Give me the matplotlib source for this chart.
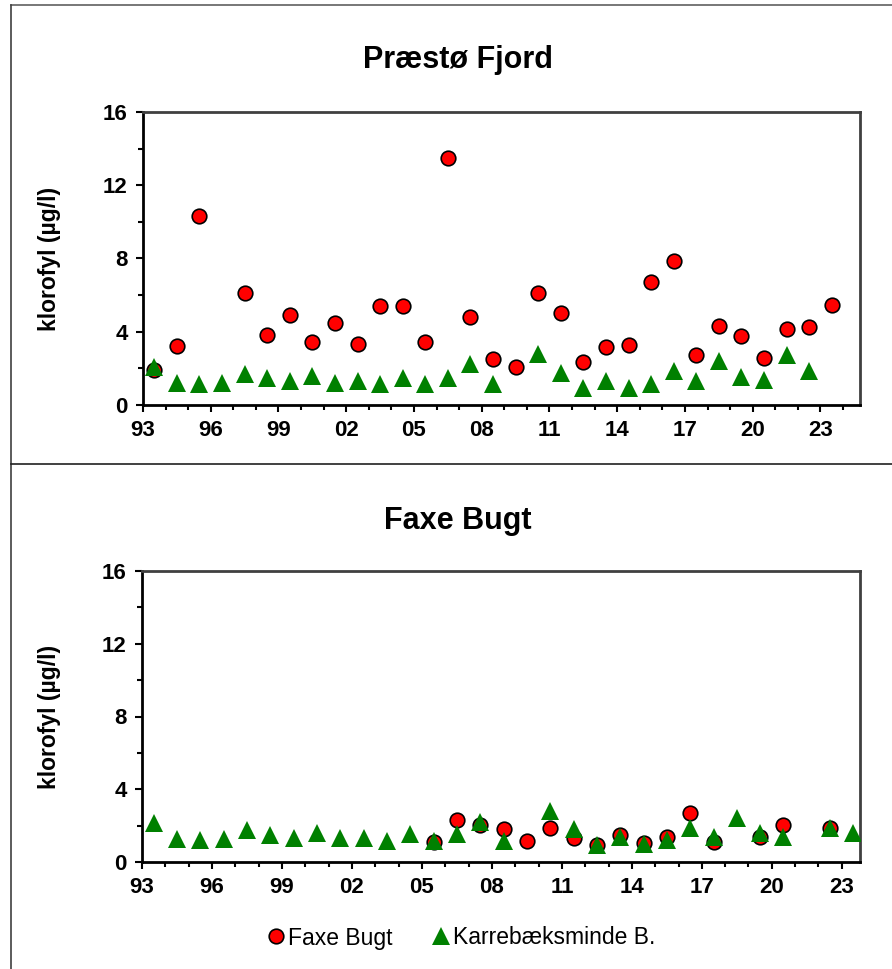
import matplotlib as mpl
import matplotlib.pyplot as plt
import numpy as np
from matplotlib.lines import Line2D
from matplotlib.ticker import MultipleLocator, FuncFormatter

mpl.rcParams["font.family"] = ["Liberation Sans", "DejaVu Sans"]

years = np.arange(1993, 2024)

# Præstø Fjord panel (nan = no value that year)
praestoe = [1.9, 3.2, 10.3, np.nan, 6.1, 3.8, 4.9, 3.45, 4.5, 3.35, 5.4, 5.4,
            3.45, 13.5, 4.8, 2.5, 2.05, 6.1, 5.05, 2.35, 3.15, 3.3, 6.7, 7.85,
            2.75, 4.3, 3.75, 2.55, 4.15, 4.25, 5.45]
karre_top = [2.1, 1.22, 1.16, 1.22, 1.7, 1.45, 1.3, 1.58, 1.22, 1.3, 1.13, 1.47,
             1.16, 1.47, 2.24, 1.14, np.nan, 2.78, 1.76, 0.93, 1.33, 0.95, 1.15,
             1.84, 1.33, 2.38, 1.55, 1.36, 2.75, 1.85, np.nan]

# Faxe Bugt panel
faxe = [np.nan] * 12 + [1.08, 2.32, 2.05, 1.83, 1.13, 1.86, 1.32, 0.95, 1.46,
                        1.02, 1.35, 2.67, 1.1, np.nan, 1.39, 2.03, np.nan, 1.86,
                        np.nan]
karre_bot = [2.14, 1.26, 1.21, 1.26, 1.75, 1.5, 1.32, 1.61, 1.3, 1.32, 1.13, 1.54,
             1.15, 1.54, 2.18, 1.15, np.nan, 2.83, 1.79, 0.95, 1.35, 0.97, 1.19,
             1.86, 1.39, 2.43, 1.57, 1.39, np.nan, 1.86, 1.57]

panels = [
    ("Præstø Fjord", praestoe, karre_top, 2024.75),
    ("Faxe Bugt", faxe, karre_bot, 2023.78),
]

fig = plt.figure(figsize=(8.92, 9.69), dpi=100)
W, H = 892, 969
boxes = [(143, 112, 860, 405), (142, 571, 860, 862)]
title_y = [60, 521]

x = years + 0.5  # values are mid-year

for (name, red, green, xmax), (l, t, r, b), ty in zip(panels, boxes, title_y):
    ax = fig.add_axes([l / W, 1 - b / H, (r - l) / W, (b - t) / H])
    ax.plot(x, red, "o", color="red", markeredgecolor="black",
            markeredgewidth=1.2, markersize=10.5, zorder=3)
    ax.plot(x, green, "^", color="green", markeredgewidth=0,
            markersize=12.5, zorder=4)
    ax.set_xlim(1993, xmax)
    ax.set_ylim(0, 16)
    ax.xaxis.set_major_locator(MultipleLocator(3, offset=1))
    ax.xaxis.set_minor_locator(MultipleLocator(1))
    ax.yaxis.set_major_locator(MultipleLocator(4))
    ax.yaxis.set_minor_locator(MultipleLocator(2))
    ax.xaxis.set_major_formatter(FuncFormatter(lambda v, p: "%02d" % (int(round(v)) % 100)))
    ax.tick_params(which="major", direction="out", length=5, width=1.5,
                   labelsize=16, pad=6)
    ax.tick_params(which="minor", direction="out", length=3.5, width=1.5)
    for lab in ax.get_xticklabels() + ax.get_yticklabels():
        lab.set_fontweight("bold")
    for side in ["left", "bottom"]:
        ax.spines[side].set_color("black")
        ax.spines[side].set_linewidth(2)
    for side in ["top", "right"]:
        ax.spines[side].set_color("#404040")
        ax.spines[side].set_linewidth(2)
    ax.set_ylabel("klorofyl (µg/l)", fontsize=16.5, fontweight="bold")
    ax.yaxis.set_label_coords((61 - l) / (r - l), 0.5)
    fig.text(458 / W, 1 - ty / H, name, fontsize=22, fontweight="bold",
             ha="center", va="center")

# outer frame lines
for xs, ys, c in [([11, W], [5, 5], "#606060"),
                  ([11, 11], [5, H], "#404040"),
                  ([11, W], [464, 464], "#202020")]:
    fig.add_artist(Line2D([v / W for v in xs], [1 - v / H for v in ys],
                          transform=fig.transFigure, color=c, linewidth=1.2))

handles = [
    Line2D([], [], marker="o", linestyle="none", color="red",
           markeredgecolor="black", markeredgewidth=1.2, markersize=10.5),
    Line2D([], [], marker="^", linestyle="none", color="green",
           markeredgewidth=0, markersize=12.5),
]
fig.legend(handles, ["Faxe Bugt", "Karrebæksminde B."], loc="center",
           bbox_to_anchor=(460 / W, 1 - 938 / H), ncol=2, frameon=False,
           fontsize=16.5, handletextpad=0.05, columnspacing=1.6,
           handlelength=1.0)

fig.savefig("out.png", dpi=100)
